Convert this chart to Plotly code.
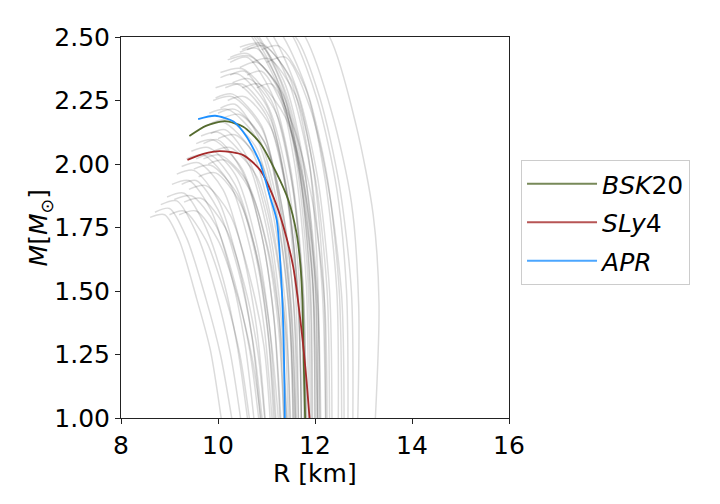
import plotly.graph_objects as go

# named EOS curves (R in km, M in solar masses)
bsk20_r = [9.41, 9.75, 10.14, 10.52, 10.87, 11.21, 11.45, 11.62, 11.70, 11.74, 11.77, 11.80]
bsk20_m = [2.110, 2.150, 2.169, 2.147, 2.082, 1.963, 1.858, 1.727, 1.600, 1.465, 1.200, 0.97]

sly4_r = [9.37, 9.70, 10.04, 10.52, 10.87, 11.14, 11.35, 11.55, 11.73, 11.83, 11.90]
sly4_m = [2.016, 2.040, 2.051, 2.035, 1.976, 1.871, 1.753, 1.596, 1.333, 1.137, 0.97]

apr_r = [9.59, 9.94, 10.32, 10.59, 10.87, 11.07, 11.21, 11.29, 11.35, 11.38]
apr_m = [2.177, 2.190, 2.167, 2.107, 2.003, 1.872, 1.780, 1.596, 1.333, 0.97]

eos_names = ["<i>BSK</i>20", "<i>SLy</i>4", "<i>APR</i>"]
eos_colors = ["darkolivegreen", "brown", "dodgerblue"]
legend_colors = ["rgba(85,107,47,0.8)", "rgba(165,42,42,0.8)", "rgba(30,144,255,0.8)"]

# background family of M-R curves, each a list of (R, M) points
gray_curves = [
    [(8.60, 1.79), (8.90, 1.80), (9.20, 1.70), (9.56, 1.47), (9.84, 1.27), (10.08, 0.98)],
    [(8.70, 1.81), (9.00, 1.825), (9.35, 1.71), (9.75, 1.47), (10.05, 1.25), (10.30, 0.98)],
    [(8.82, 1.84), (9.15, 1.855), (9.55, 1.73), (9.95, 1.50), (10.25, 1.26), (10.48, 0.98)],
    [(8.95, 1.87), (9.30, 1.885), (9.70, 1.77), (10.10, 1.55), (10.40, 1.28), (10.62, 0.98)],
    [(9.05, 1.92), (9.40, 1.935), (9.85, 1.82), (10.25, 1.58), (10.55, 1.30), (10.75, 0.98)],
    [(9.15, 1.96), (9.50, 1.975), (10.00, 1.86), (10.40, 1.62), (10.70, 1.32), (10.88, 0.98)],
    [(9.25, 1.99), (9.60, 2.005), (10.10, 1.90), (10.50, 1.66), (10.80, 1.35), (10.98, 0.98)],
    [(9.35, 2.02), (9.70, 2.035), (10.25, 1.92), (10.65, 1.68), (10.95, 1.36), (11.12, 0.98)],
    [(9.45, 2.05), (9.80, 2.065), (10.35, 1.96), (10.78, 1.70), (11.05, 1.38), (11.20, 0.98)],
    [(9.55, 2.08), (9.90, 2.095), (10.50, 1.98), (10.90, 1.72), (11.15, 1.40), (11.28, 0.98)],
    [(9.65, 2.11), (10.00, 2.125), (10.60, 2.01), (11.00, 1.75), (11.25, 1.42), (11.36, 0.98)],
    [(9.75, 2.15), (10.10, 2.165), (10.70, 2.05), (11.10, 1.78), (11.35, 1.44), (11.45, 0.98)],
    [(9.82, 2.20), (10.20, 2.215), (10.80, 2.10), (11.20, 1.82), (11.45, 1.46), (11.55, 0.98)],
    [(9.90, 2.25), (10.30, 2.265), (10.90, 2.14), (11.30, 1.85), (11.55, 1.48), (11.62, 0.98)],
    [(9.95, 2.30), (10.40, 2.315), (11.00, 2.19), (11.40, 1.90), (11.65, 1.50), (11.72, 0.98)],
    [(10.05, 2.36), (10.50, 2.375), (11.10, 2.25), (11.50, 1.95), (11.75, 1.52), (11.82, 0.98)],
    [(10.20, 2.41), (10.65, 2.425), (11.25, 2.30), (11.65, 2.00), (11.90, 1.55), (11.95, 0.98)],
    [(10.45, 2.46), (10.90, 2.475), (11.45, 2.35), (11.85, 2.05), (12.05, 1.58), (12.08, 0.98)],
    [(10.20, 2.62), (10.70, 2.50), (11.25, 2.30), (11.65, 2.00), (11.95, 1.55), (12.05, 0.98)],
    [(10.30, 2.63), (10.85, 2.50), (11.40, 2.28), (11.80, 1.95), (12.05, 1.50), (12.12, 0.98)],
    [(10.50, 2.62), (11.00, 2.50), (11.50, 2.30), (11.90, 1.98), (12.15, 1.50), (12.22, 0.98)],
    [(10.60, 2.63), (11.15, 2.50), (11.65, 2.28), (12.05, 1.95), (12.30, 1.50), (12.35, 0.98)],
    [(10.80, 2.63), (11.35, 2.50), (11.85, 2.28), (12.25, 1.95), (12.50, 1.50), (12.55, 0.98)],
    [(11.00, 2.64), (11.55, 2.50), (12.05, 2.25), (12.45, 1.90), (12.65, 1.50), (12.68, 0.98)],
    [(11.20, 2.65), (11.80, 2.50), (12.35, 2.20), (12.75, 1.85), (12.90, 1.45), (12.88, 0.98)],
    [(11.60, 2.66), (12.30, 2.50), (12.85, 2.15), (13.20, 1.80), (13.32, 1.45), (13.24, 0.98)],
    [(9.60, 1.95), (9.95, 1.965), (10.45, 1.85), (10.85, 1.60), (11.10, 1.30), (11.25, 0.98)],
    [(9.80, 2.00), (10.15, 2.015), (10.65, 1.90), (11.05, 1.65), (11.30, 1.32), (11.42, 0.98)],
    [(9.90, 2.05), (10.25, 2.065), (10.80, 1.95), (11.15, 1.70), (11.40, 1.35), (11.50, 0.98)],
    [(10.00, 2.10), (10.35, 2.115), (10.90, 2.00), (11.25, 1.75), (11.48, 1.38), (11.58, 0.98)],
    [(10.10, 2.18), (10.45, 2.195), (11.00, 2.07), (11.35, 1.80), (11.58, 1.40), (11.66, 0.98)],
    [(10.20, 2.25), (10.55, 2.265), (11.10, 2.14), (11.45, 1.85), (11.66, 1.42), (11.72, 0.98)],
    [(10.30, 2.32), (10.65, 2.335), (11.20, 2.20), (11.55, 1.90), (11.75, 1.45), (11.80, 0.98)],
    [(10.45, 2.38), (10.80, 2.40), (11.35, 2.27), (11.70, 1.95), (11.90, 1.48), (11.93, 0.98)],
    [(9.50, 1.98), (9.85, 1.995), (10.40, 1.88), (10.80, 1.62), (11.05, 1.30), (11.18, 0.98)],
    [(9.70, 2.02), (10.05, 2.035), (10.60, 1.93), (11.00, 1.68), (11.25, 1.35), (11.36, 0.98)],
    [(10.00, 2.20), (10.35, 2.215), (10.95, 2.09), (11.30, 1.82), (11.52, 1.42), (11.60, 0.98)],
    [(10.15, 2.30), (10.50, 2.315), (11.05, 2.19), (11.42, 1.90), (11.65, 1.46), (11.72, 0.98)],
    [(9.40, 1.90), (9.75, 1.915), (10.25, 1.80), (10.65, 1.56), (10.95, 1.28), (11.08, 0.98)],
    [(9.30, 1.85), (9.65, 1.865), (10.15, 1.75), (10.55, 1.52), (10.82, 1.26), (10.97, 0.98)],
    [(9.10, 1.86), (9.45, 1.875), (9.95, 1.76), (10.35, 1.53), (10.65, 1.27), (10.85, 0.98)],
    [(10.60, 2.45), (10.95, 2.465), (11.55, 2.32), (11.95, 2.00), (12.18, 1.52), (12.22, 0.98)],
    [(10.70, 2.40), (11.05, 2.415), (11.60, 2.27), (12.00, 1.95), (12.25, 1.50), (12.30, 0.98)],
    [(10.50, 2.30), (10.85, 2.315), (11.40, 2.18), (11.80, 1.88), (12.05, 1.45), (12.10, 0.98)],
    [(10.90, 2.45), (11.25, 2.465), (11.80, 2.30), (12.20, 1.95), (12.45, 1.50), (12.48, 0.98)],
    [(9.85, 2.16), (10.20, 2.175), (10.80, 2.06), (11.15, 1.79), (11.40, 1.42), (11.48, 0.98)],
    [(9.95, 2.26), (10.30, 2.275), (10.90, 2.15), (11.25, 1.86), (11.48, 1.45), (11.55, 0.98)],
    [(10.05, 2.34), (10.40, 2.355), (11.00, 2.23), (11.38, 1.93), (11.60, 1.49), (11.66, 0.98)],
    [(10.25, 2.42), (10.60, 2.435), (11.20, 2.31), (11.58, 2.00), (11.82, 1.53), (11.86, 0.98)],
    [(9.20, 1.80), (9.55, 1.815), (10.00, 1.70), (10.40, 1.48), (10.70, 1.24), (10.90, 0.98)],
    [(10.35, 2.56), (10.80, 2.50), (11.30, 2.32), (11.70, 2.02), (11.95, 1.56), (12.00, 0.98)],
    [(9.55, 2.02), (9.85, 2.035), (10.35, 1.92), (10.75, 1.68), (11.02, 1.36), (11.15, 0.98)],
    [(9.70, 2.08), (10.00, 2.095), (10.50, 1.97), (10.90, 1.72), (11.16, 1.38), (11.30, 0.98)],
    [(9.85, 2.12), (10.15, 2.135), (10.65, 2.01), (11.05, 1.75), (11.30, 1.40), (11.42, 0.98)],
    [(10.05, 2.22), (10.35, 2.235), (10.85, 2.10), (11.25, 1.82), (11.50, 1.44), (11.60, 0.98)],
    [(10.25, 2.35), (10.55, 2.365), (11.05, 2.22), (11.45, 1.92), (11.70, 1.48), (11.77, 0.98)],
    [(10.45, 2.44), (10.80, 2.455), (11.30, 2.30), (11.70, 1.98), (11.95, 1.52), (12.00, 0.98)],
    [(9.00, 1.80), (9.30, 1.815), (9.75, 1.70), (10.15, 1.48), (10.45, 1.25), (10.66, 0.98)],
    [(9.25, 1.92), (9.55, 1.935), (10.00, 1.82), (10.42, 1.58), (10.72, 1.30), (10.92, 0.98)],
    [(10.60, 2.35), (10.90, 2.365), (11.40, 2.20), (11.80, 1.90), (12.02, 1.46), (12.05, 0.98)],
    [(10.80, 2.30), (11.10, 2.315), (11.55, 2.15), (11.95, 1.85), (12.20, 1.45), (12.25, 0.98)],
    [(11.00, 2.40), (11.40, 2.42), (11.90, 2.22), (12.30, 1.88), (12.55, 1.48), (12.60, 0.98)],
    [(11.20, 2.55), (11.60, 2.50), (12.10, 2.26), (12.50, 1.92), (12.75, 1.50), (12.78, 0.98)],
    [(10.50, 2.45), (10.85, 2.47), (11.35, 2.33), (11.75, 2.02), (12.00, 1.56), (12.05, 0.98)],
    [(10.25, 2.40), (10.60, 2.42), (11.10, 2.28), (11.50, 1.98), (11.75, 1.54), (11.82, 0.98)],
    [(10.30, 2.58), (10.75, 2.50), (11.20, 2.34), (11.60, 2.03), (11.85, 1.56), (11.90, 0.98)],
]

fig = go.Figure()

for curve in gray_curves:
    fig.add_trace(go.Scatter(
        x=[p[0] for p in curve], y=[p[1] for p in curve],
        mode="lines",
        line=dict(color="rgba(0,0,0,0.14)", width=1.5, shape="spline", smoothing=0.8),
        showlegend=False, hoverinfo="skip",
    ))

for name, color, lcolor, rr, mm in zip(eos_names, eos_colors, legend_colors,
                                       [bsk20_r, sly4_r, apr_r], [bsk20_m, sly4_m, apr_m]):
    fig.add_trace(go.Scatter(
        x=rr, y=mm, mode="lines", name=name, showlegend=False, legendgroup=name,
        line=dict(color=color, width=1.8, shape="spline", smoothing=0.7),
    ))
    # legend entry drawn slightly lighter, as in the reference
    fig.add_trace(go.Scatter(
        x=[None], y=[None], mode="lines", name=name, legendgroup=name,
        line=dict(color=lcolor, width=2),
    ))

axis_common = dict(
    showgrid=False, zeroline=False, showline=True, linecolor="#222", linewidth=1,
    mirror=True, ticks="outside", ticklen=5, tickcolor="#222",
    tickfont=dict(size=25, color="black"),
)

fig.update_xaxes(range=[8, 16], dtick=2, **axis_common)
fig.update_yaxes(range=[1, 2.5], dtick=0.25, tickformat=".2f", **axis_common)

# axis titles placed as annotations to match the reference spacing
fig.add_annotation(text="R [km]", xref="paper", yref="paper", x=0.5, y=-0.145,
                   xanchor="center", yanchor="middle", showarrow=False,
                   font=dict(size=25, color="black"))
fig.add_annotation(text="<i>M</i>[<i>M</i><sub>⊙</sub>]", xref="paper", yref="paper",
                   x=-0.209, y=0.5, xanchor="center", yanchor="middle", textangle=-90,
                   showarrow=False, font=dict(size=25, color="black"))

fig.update_layout(
    width=720, height=504,
    margin=dict(l=113, r=219, t=29, b=94),
    plot_bgcolor="white", paper_bgcolor="white",
    font=dict(family="DejaVu Sans", size=25, color="black"),
    legend=dict(
        x=1.031, y=0.677, xanchor="left", yanchor="top",
        bordercolor="#cccccc", borderwidth=1, bgcolor="white",
        font=dict(size=25), traceorder="grouped", tracegroupgap=3,
        itemwidth=70,
    ),
)

fig.write_html("out.html")
